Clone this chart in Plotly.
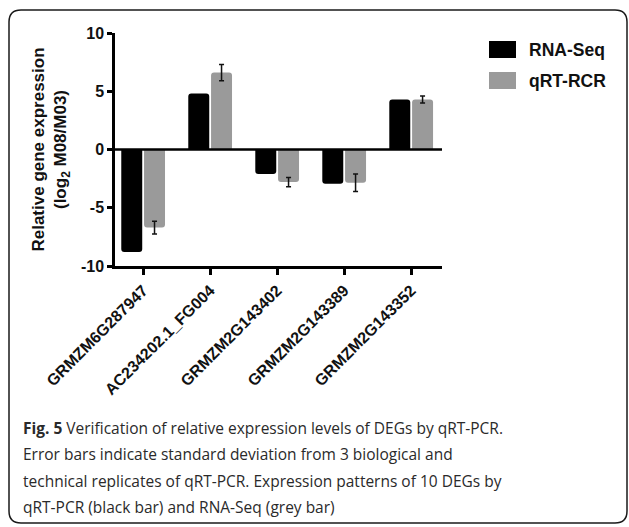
import plotly.graph_objects as go

genes = ["GRMZM6G287947", "AC234202.1_FG004", "GRMZM2G143402", "GRMZM2G143389", "GRMZM2G143352"]
rna_seq = [-8.8, 4.8, -2.1, -2.95, 4.3]
qrt_pcr = [-6.7, 6.6, -2.8, -2.85, 4.3]
qrt_err = [0.55, 0.7, 0.4, 0.75, 0.3]
series_names = ["RNA-Seq", "qRT-RCR"]
y_ticks = [-10, -5, 0, 5, 10]
caption_lines = [
    "<b>Fig. 5</b> Verification of relative expression levels of DEGs by qRT-PCR.",
    "Error bars indicate standard deviation from 3 biological and",
    "technical replicates of qRT-PCR. Expression patterns of 10 DEGs by",
    "qRT-PCR (black bar) and RNA-Seq (grey bar)",
]

W, H = 629, 527
L, R, T, B = 115, 187, 33, 261
PW, PH = W - L - R, H - T - B

def px(x):
    return (x - L) / PW

def py(y):
    return (H - B - y) / PH

BLACK = "#000000"
GREY = "#9a9a9a"
FONT = "Liberation Sans, Arial, sans-serif"

fig = go.Figure()
fig.add_trace(go.Bar(x=list(range(len(genes))), y=rna_seq, name=series_names[0],
                     marker=dict(color=BLACK, line=dict(width=0)), showlegend=False))
fig.add_trace(go.Bar(x=list(range(len(genes))), y=qrt_pcr, name=series_names[1],
                     marker=dict(color=GREY, line=dict(width=0)), showlegend=False,
                     error_y=dict(type="data", array=qrt_err, color="#111111", thickness=1.5, width=2.5)))

shapes = []
# outer rounded frame
x0, y0, x1, y1, r = 9, 10, 627, 523, 12
def P(x, y):
    return f"{px(x)},{py(y)}"
path = (f"M {P(x0 + r, y0)} L {P(x1 - r, y0)} Q {P(x1, y0)} {P(x1, y0 + r)} "
        f"L {P(x1, y1 - r)} Q {P(x1, y1)} {P(x1 - r, y1)} L {P(x0 + r, y1)} "
        f"Q {P(x0, y1)} {P(x0, y1 - r)} L {P(x0, y0 + r)} Q {P(x0, y0)} {P(x0 + r, y0)} Z")
shapes.append(dict(type="path", xref="paper", yref="paper", path=path,
                   line=dict(color="#1a1a1a", width=1.5), fillcolor="rgba(0,0,0,0)", layer="below"))

# zero line
shapes.append(dict(type="line", xref="paper", yref="y", x0=0, x1=1, y0=0, y1=0,
                   line=dict(color=BLACK, width=2.5)))

# legend swatches
annotations = []
for i, (nm, col) in enumerate(zip(series_names, [BLACK, GREY])):
    top = 41 + i * 31
    shapes.append(dict(type="rect", xref="paper", yref="paper",
                       x0=px(489), x1=px(516), y0=py(top), y1=py(top + 17),
                       fillcolor=col, line=dict(width=0)))
    annotations.append(dict(xref="paper", yref="paper", x=px(527), y=py(top + 8.5),
                            text=f"<b>{nm}</b>", showarrow=False, xanchor="left", yanchor="middle",
                            font=dict(family=FONT, size=17.5, color="#111111")))

for i, line in enumerate(caption_lines):
    annotations.append(dict(xref="paper", yref="paper", x=px(21), y=py(428 + i * 26.3),
                            text=line, showarrow=False, xanchor="left", yanchor="middle",
                            font=dict(family="Open Sans, sans-serif", size=15.5, color="#2a2a2a")))

fig.update_layout(
    width=W, height=H,
    margin=dict(l=L, r=R, t=T, b=B, pad=0),
    paper_bgcolor="white", plot_bgcolor="white",
    barmode="group", bargap=0.32, bargroupgap=0.08, barcornerradius=3,
    shapes=shapes, annotations=annotations,
    font=dict(family=FONT, color="#111111"),
)
fig.update_xaxes(
    range=[-0.42, 4.46], tickmode="array", tickvals=list(range(len(genes))),
    ticktext=[f"<b>{g}</b>" for g in genes], tickangle=-45,
    tickfont=dict(family=FONT, size=16, color="#111111"),
    showline=True, linecolor=BLACK, linewidth=2.5, ticks="outside", ticklen=6, tickwidth=2.5,
    tickcolor=BLACK, showgrid=False, zeroline=False, fixedrange=True,
)
fig.update_yaxes(
    range=[-10, 10], tickmode="array", tickvals=y_ticks,
    ticktext=[f"<b>{v}</b>" for v in y_ticks],
    tickfont=dict(family=FONT, size=16, color="#111111"),
    showline=True, linecolor=BLACK, linewidth=2.5, ticks="outside", ticklen=5, tickwidth=2.5,
    tickcolor=BLACK, showgrid=False, zeroline=False,
    title=dict(text="<b>Relative gene expression<br>(log<sub>2</sub> M08/M03)</b>",
               font=dict(family=FONT, size=17, color="#111111"), standoff=10),
)

fig.write_html("out.html")
